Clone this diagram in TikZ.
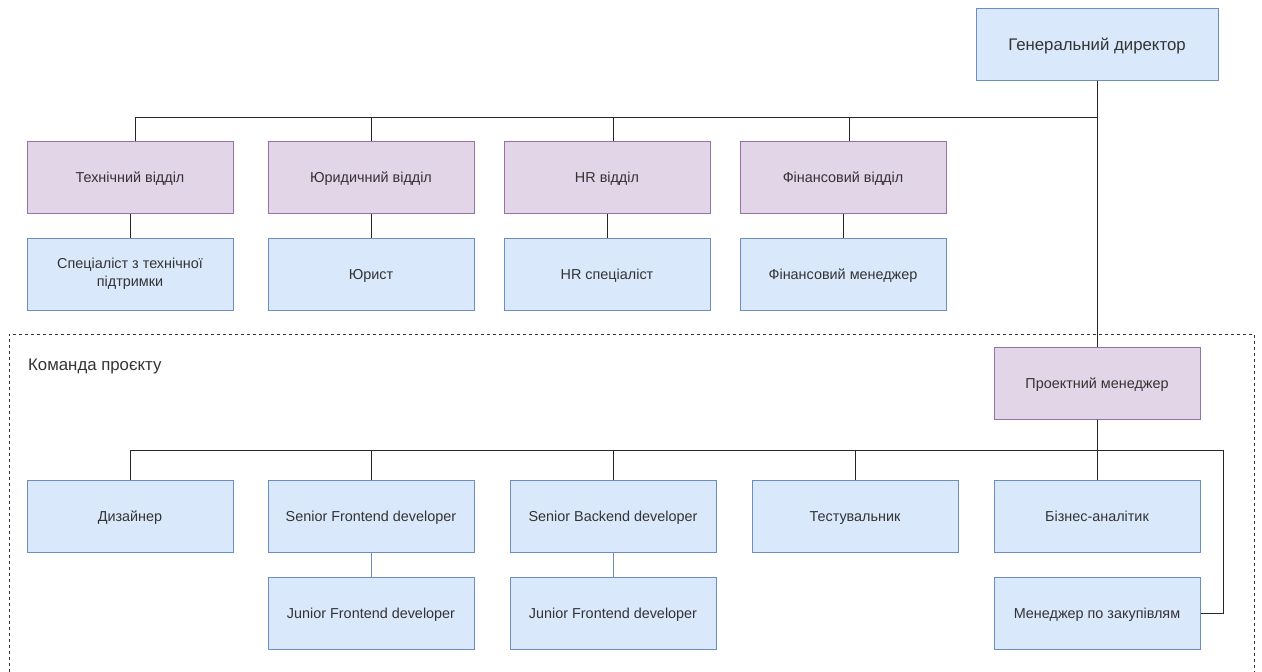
\documentclass[tikz,border=0pt]{standalone}
\usepackage{fontspec}
\setmainfont{Liberation Sans}
\definecolor{bfill}{HTML}{DAE8FC}
\definecolor{bdraw}{HTML}{6C8EBF}
\definecolor{pfill}{HTML}{E1D5E7}
\definecolor{pdraw}{HTML}{9673A6}
\definecolor{txt}{HTML}{333333}
\begin{document}
\begin{tikzpicture}[x=1pt,y=-1pt,
  box/.style={draw=bdraw,fill=bfill,line width=1pt,minimum width=206pt,minimum height=72pt,
    inner sep=2pt,align=center,text=txt,font=\fontsize{14.4}{18.5}\selectfont,
    text height=10.4pt,text depth=0pt},
  multi/.style={text height=,text depth=},
  pbox/.style={box,draw=pdraw,fill=pfill},
  conn/.style={line width=1pt,draw=black!85},
  bconn/.style={line width=1pt,draw=bdraw}]
\useasboundingbox (0,0) rectangle (1262,672);
% container
\draw[line width=1pt,draw=black!80,dash pattern=on 3pt off 3pt] (9,672) -- (9,334) -- (1254,334) -- (1254,672);
\node[anchor=west,inner sep=0pt,text=txt,font=\fontsize{16.8}{20}\selectfont,text height=12pt,text depth=0pt] (team) at (28,364) {Команда проєкту};
% nodes
\node[box,minimum width=242pt,font=\fontsize{16.8}{20}\selectfont,text height=12pt] (gd) at (1097,44) {Генеральний директор};
\node[pbox] (tech) at (130,177) {Технічний відділ};
\node[pbox] (jur) at (371,177) {Юридичний відділ};
\node[pbox] (hr) at (607,177) {HR відділ};
\node[pbox] (fin) at (843,177) {Фінансовий відділ};
\node[box,multi] (techs) at (130,274) {Спеціаліст з технічної\\підтримки};
\node[box] (lawyer) at (371,274) {Юрист};
\node[box] (hrs) at (607,274) {HR спеціаліст};
\node[box] (finm) at (843,274) {Фінансовий менеджер};
\node[pbox] (pm) at (1097,383) {Проектний менеджер};
\node[box] (des) at (130,516) {Дизайнер};
\node[box] (sfe) at (371,516) {Senior Frontend developer};
\node[box] (sbe) at (613,516) {Senior Backend developer};
\node[box] (test) at (855,516) {Тестувальник};
\node[box] (ba) at (1097,516) {Бізнес-аналітик};
\node[box] (jfe) at (371,613) {Junior Frontend developer};
\node[box] (jbe) at (613,613) {Junior Frontend developer};
\node[box] (buy) at (1097,613) {Менеджер по закупівлям};
% connectors
\draw[conn] (gd.south) -- ++(0,37) -| ([xshift=5pt]tech.north);
\draw[conn] (gd.south) -- ++(0,37) -| (jur.north);
\draw[conn] (gd.south) -- ++(0,37) -| ([xshift=6pt]hr.north);
\draw[conn] (gd.south) -- ++(0,37) -| ([xshift=6pt]fin.north);
\draw[conn] (gd.south) -- (pm.north);
\draw[conn] (tech) -- (techs);
\draw[conn] (jur) -- (lawyer);
\draw[conn] (hr) -- (hrs);
\draw[conn] (fin) -- (finm);
\draw[conn] (pm.south) -- ++(0,31) -| (des.north);
\draw[conn] (pm.south) -- ++(0,31) -| (sfe.north);
\draw[conn] (pm.south) -- ++(0,31) -| (sbe.north);
\draw[conn] (pm.south) -- ++(0,31) -| (test.north);
\draw[conn] (pm.south) -- (ba.north);
\coordinate (bend) at (1223,450);
\draw[conn] (pm.south) |- (bend) |- (buy.east);
\draw[bconn] (sfe) -- (jfe);
\draw[bconn] (sbe) -- (jbe);
\end{tikzpicture}
\end{document}
